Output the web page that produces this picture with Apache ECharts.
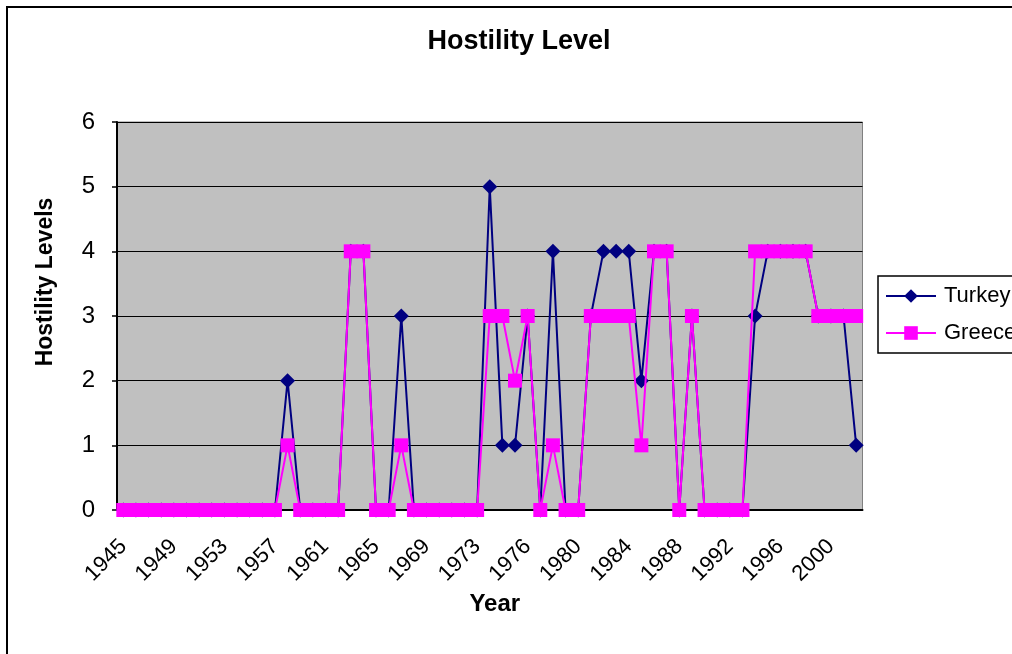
<!DOCTYPE html>
<html><head><meta charset="utf-8">
<script src="https://cdn.jsdelivr.net/npm/echarts@6/dist/echarts.min.js"></script>
<style>html,body{margin:0;padding:0;background:#fff}#c{width:1012px;height:654px}</style>
</head><body><div id="c"></div>
<script>
const years = ['1945','1946','1947','1948','1949','1950','1951','1952','1953','1954','1955','1956','1957','1958','1959','1960','1961','1962','1963','1964','1965','1966','1967','1968','1969','1970','1971','1972','1973','1974','1974','1975','1976','1977','1978','1979','1980','1981','1982','1983','1984','1985','1986','1987','1988','1989','1990','1991','1992','1993','1994','1995','1996','1997','1998','1999','2000','2001','2002'];
const turkey = [0,0,0,0,0,0,0,0,0,0,0,0,0,2,0,0,0,0,4,4,0,0,3,0,0,0,0,0,0,5,1,1,3,0,4,0,0,3,4,4,4,2,4,4,0,3,0,0,0,0,3,4,4,4,4,3,3,3,1];
const greece = [0,0,0,0,0,0,0,0,0,0,0,0,0,1,0,0,0,0,4,4,0,0,1,0,0,0,0,0,0,3,3,2,3,0,1,0,0,3,3,3,3,1,4,4,0,3,0,0,0,0,4,4,4,4,4,3,3,3,3];
const seriesNames = ['Turkey','Greece'];
const yMin = 0, yMax = 6, yStep = 1;

const FONT = 'Liberation Sans, Arial, sans-serif';
const chart = echarts.init(document.getElementById('c'), null, {renderer:'canvas'});
chart.setOption({
  animation:false,
  backgroundColor:'#fff',
  graphic:[
    {type:'rect', shape:{x:7,y:7,width:1060,height:720}, style:{fill:'none',stroke:'#000',lineWidth:2}, silent:true},
    {type:'text', x:519, y:42,
      style:{text:'Hostility Level', fontFamily:FONT, fontSize:27, fontWeight:'bold', fill:'#000', align:'center', verticalAlign:'middle'}, silent:true},
    {type:'text', x:46, y:282, rotation:Math.PI/2,
      style:{text:'Hostility Levels', fontFamily:FONT, fontSize:23, fontWeight:'bold', fill:'#000', align:'center', verticalAlign:'middle'}, silent:true}
  ],
  grid:{left:117, top:122, width:745.5, height:388, show:true, backgroundColor:'#c0c0c0', borderColor:'#808080', borderWidth:1},
  legend:{orient:'vertical', left:878, top:276, data:seriesNames,
    borderColor:'#000', borderWidth:1.5, padding:[9,60,9,7], itemGap:15,
    itemWidth:50, itemHeight:17, backgroundColor:'#fff',
    textStyle:{fontFamily:FONT, fontSize:22, color:'#000', padding:[0,0,0,3]}},
  xAxis:{type:'category', data:years, boundaryGap:true,
    name:'Year', nameLocation:'middle', nameGap:70,
    nameTextStyle:{fontFamily:FONT, fontSize:24, fontWeight:'bold', color:'#000', padding:[0,0,0,10]},
    axisLine:{lineStyle:{color:'#000', width:2}},
    axisTick:{interval:0, length:5, lineStyle:{color:'#000', width:1.5}},
    axisLabel:{interval:3, rotate:45, margin:33, fontFamily:FONT, fontSize:22, color:'#000'},
    splitLine:{show:false}},
  yAxis:{type:'value', min:yMin, max:yMax, interval:yStep,
    axisLine:{show:true, lineStyle:{color:'#000', width:2}},
    axisTick:{show:true, length:5, lineStyle:{color:'#000', width:1.5}},
    axisLabel:{margin:22, fontFamily:FONT, fontSize:24, color:'#000'},
    splitLine:{show:true, lineStyle:{color:'#000', width:1.2}}},
  series:[
    {name:seriesNames[0], type:'line', data:turkey, symbol:'diamond', symbolSize:15, showAllSymbol:true,
      lineStyle:{color:'#000080', width:2}, itemStyle:{color:'#000080'}, z:2},
    {name:seriesNames[1], type:'line', data:greece, symbol:'rect', symbolSize:14, showAllSymbol:true,
      lineStyle:{color:'#ff00ff', width:2}, itemStyle:{color:'#ff00ff'}, z:3}
  ]
});
</script></body></html>
